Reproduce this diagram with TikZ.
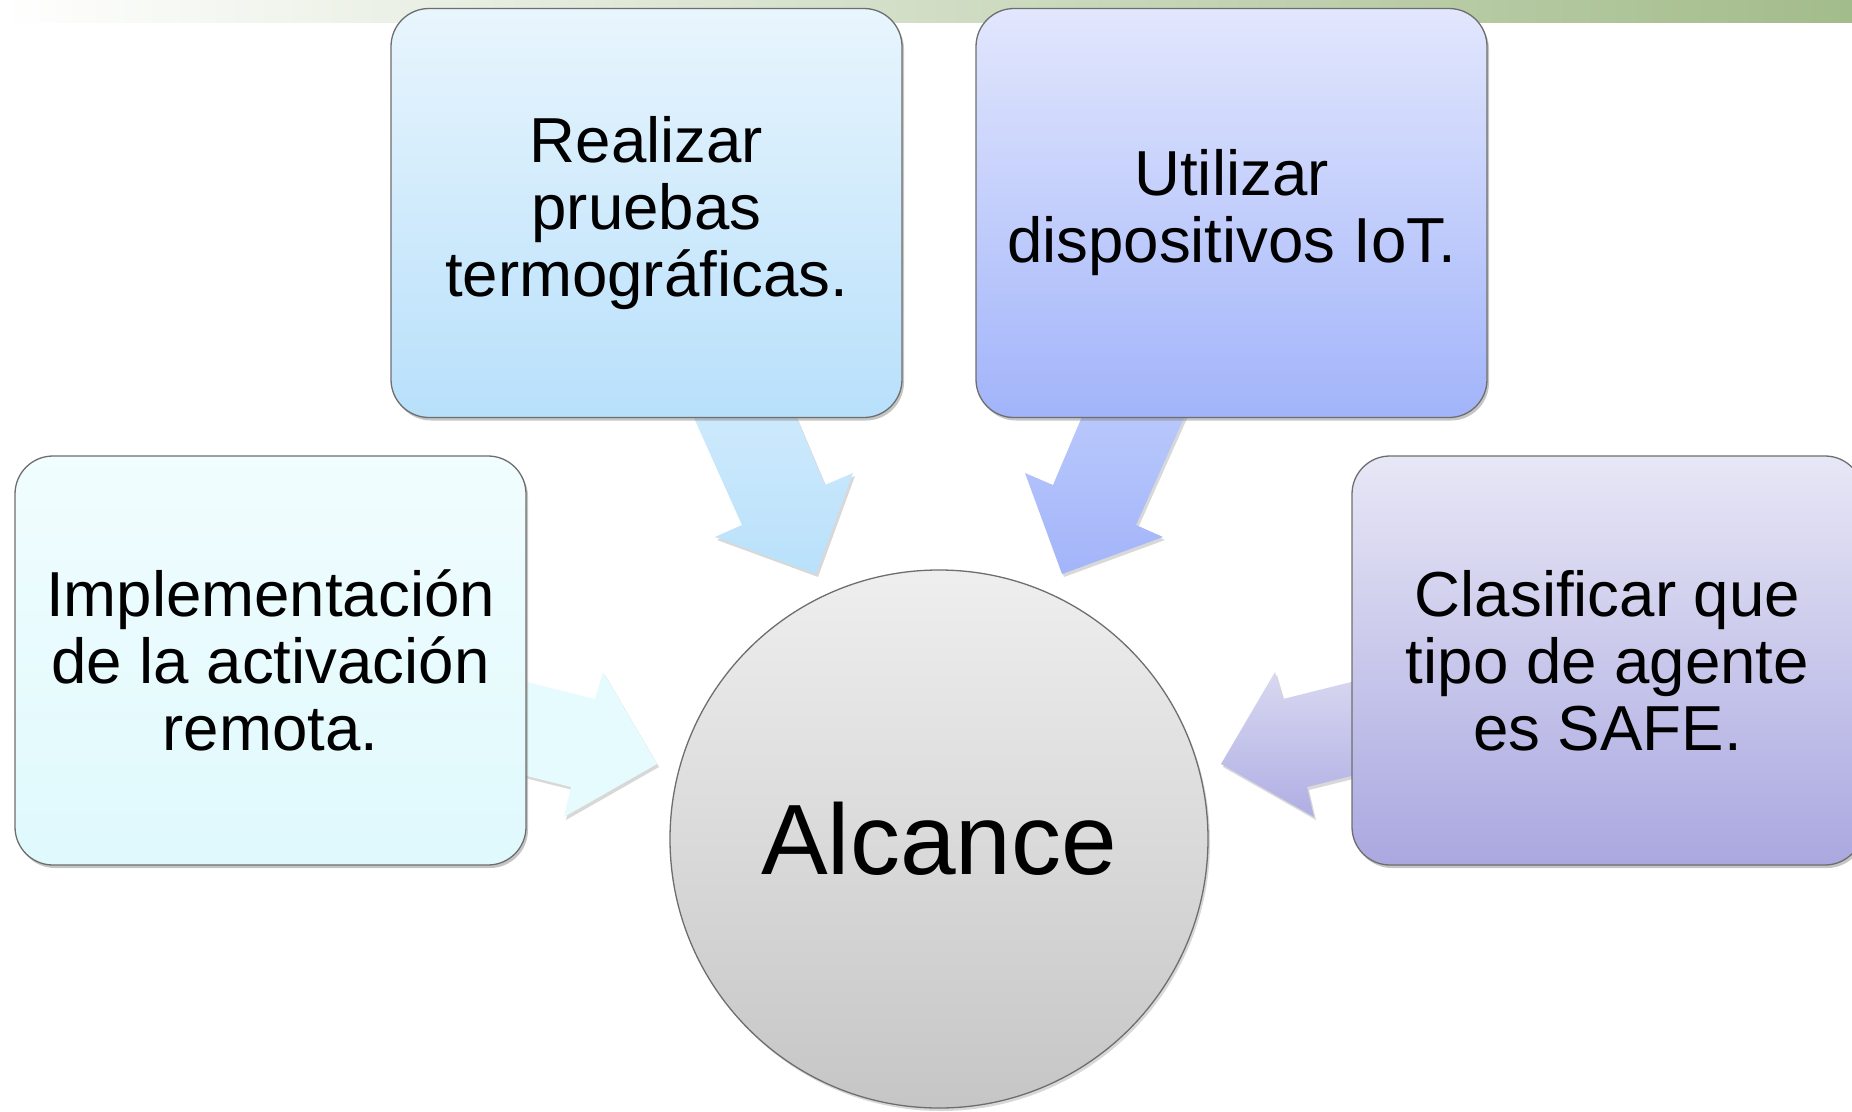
\documentclass[tikz,border=0pt]{standalone}
\usepackage{fontspec}
\setmainfont{Liberation Sans}
\usetikzlibrary{shadows}
\definecolor{barR}{HTML}{A3BC8B}
\definecolor{bxAt}{HTML}{F1FDFE}\definecolor{bxAb}{HTML}{DFF9FD}
\definecolor{bxBt}{HTML}{E8F5FD}\definecolor{bxBb}{HTML}{B8E0FB}
\definecolor{bxCt}{HTML}{E2E7FD}\definecolor{bxCb}{HTML}{A2B4FA}
\definecolor{bxDt}{HTML}{E7E7F6}\definecolor{bxDb}{HTML}{AAA8E0}
\definecolor{arA}{HTML}{E6FBFD}
\definecolor{arBt}{HTML}{CFEAFC}\definecolor{arBb}{HTML}{B9E1FB}
\definecolor{arCt}{HTML}{BACAFC}\definecolor{arCb}{HTML}{A3B4FA}
\definecolor{arDt}{HTML}{D8D8F1}\definecolor{arDb}{HTML}{B0AEE3}
\definecolor{edge}{HTML}{6E6E6E}
\tikzset{
  box/.style={draw=edge, line width=1.3pt, rounded corners=38pt,
    minimum width=511pt, minimum height=409pt, inner sep=0pt, align=center,
    font=\fontsize{63.6}{67}\selectfont,
    drop shadow={shadow xshift=2pt, shadow yshift=-3pt, opacity=0.45}},
  blockarrow/.style={drop shadow={shadow xshift=2pt, shadow yshift=-3pt, opacity=0.3}},
}
\begin{document}
\begin{tikzpicture}[x=1pt,y=-1pt]
\clip (0,0) rectangle (1852,1111);
\fill[white] (0,0) rectangle (1852,1111);
% top bar
\shade[left color=white, right color=barR] (0,0) rectangle (1852,22);
% block arrows
\fill[blockarrow, arA] (515,679) -- (595,699) -- (603,672) -- (657,764) -- (564,817) -- (571,787) -- (515,773) -- cycle;
\shade[blockarrow, top color=arBt, bottom color=arBb] (686,400) -- (742,525) -- (715,537) -- (816,574) -- (853,473) -- (825,485) -- (789,400) -- cycle;
\shade[blockarrow, top color=arCt, bottom color=arCb] (1192,400) -- (1136,525) -- (1163,537) -- (1062,574) -- (1025,473) -- (1053,485) -- (1089,400) -- cycle;
\shade[blockarrow, top color=arDt, bottom color=arDb] (1363,679) -- (1283,699) -- (1275,672) -- (1221,764) -- (1314,817) -- (1307,787) -- (1363,773) -- cycle;
% boxes
\node[box, top color=bxAt, bottom color=bxAb] (impl) at (270.5,660.5) {Implementación\\de la activación\\remota.};
\node[box, top color=bxBt, bottom color=bxBb] (real) at (646.5,213) {Realizar\\pruebas\\termográficas.};
\node[box, top color=bxCt, bottom color=bxCb] (util) at (1231.5,213) {Utilizar\\dispositivos IoT.};
\node[box, top color=bxDt, bottom color=bxDb] (clas) at (1607.5,660.5) {Clasificar que\\tipo de agente\\es SAFE.};
% centre circle
\node[circle, draw=edge, line width=1.3pt, minimum size=538pt, inner sep=0pt,
  top color=gray!13, bottom color=gray!45,
  drop shadow={shadow xshift=2pt, shadow yshift=-3pt, opacity=0.3},
  font=\fontsize{100}{100}\selectfont] (alc) at (939,839) {Alcance};
\end{tikzpicture}
\end{document}
